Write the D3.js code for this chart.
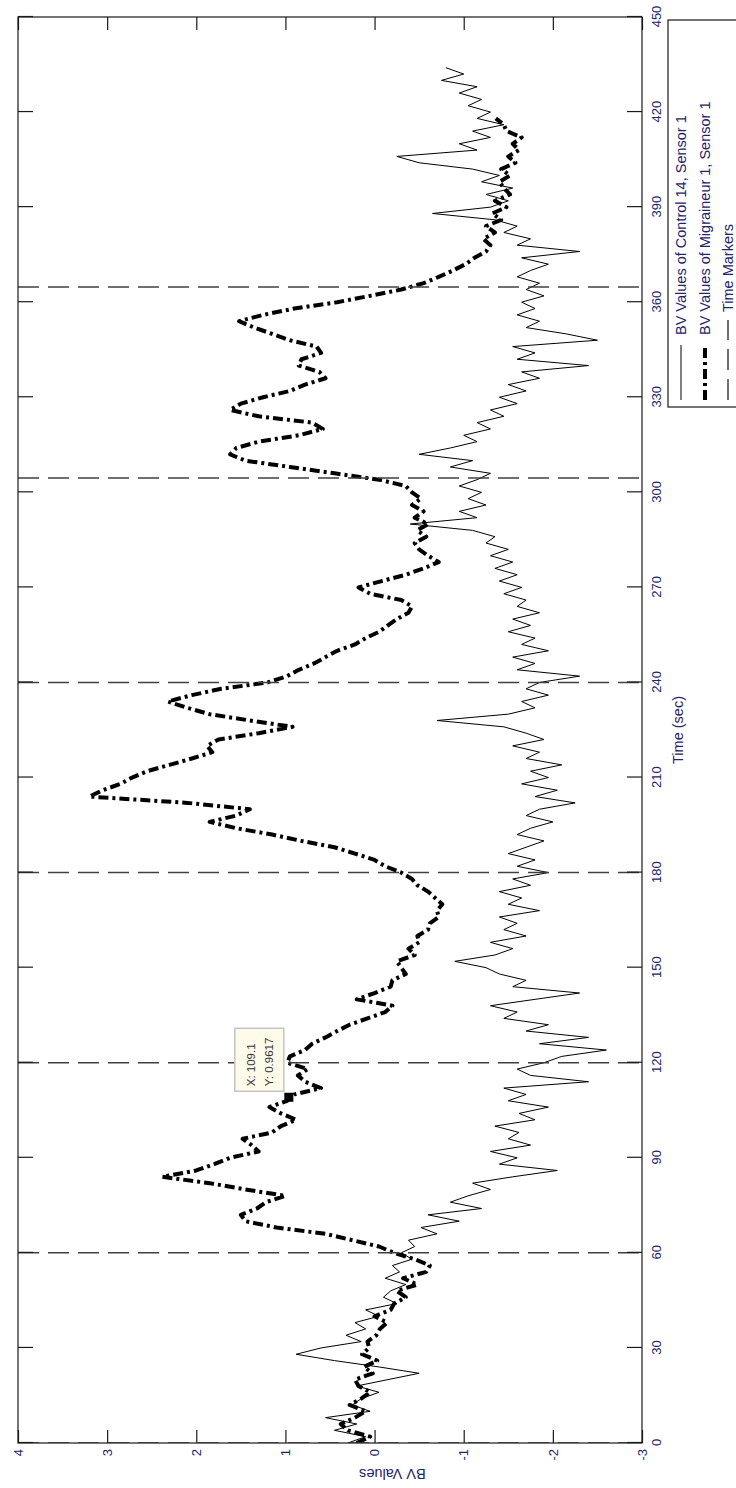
<!DOCTYPE html>
<html>
<head>
<meta charset="utf-8">
<script src="https://cdn.jsdelivr.net/npm/d3@7"></script>
<style>
  html, body { margin: 0; padding: 0; background: #ffffff; }
  svg { display: block; }
  text { font-family: "Liberation Sans", Arial, sans-serif; }
</style>
</head>
<body>
<script>
// Blood volume (BV) recordings, one sample every 2 s
const SAMPLE_STEP = 2;

const controlBV = [
  0.30, 0.10, 0.45, 0.20, 0.55, 0.05, 0.25, 0.15, -0.05, 0.20,
  -0.15, -0.50, -0.05, 0.45, 0.88, 0.60, 0.15, 0.32, 0.10, 0.22,
  -0.05, 0.10, -0.25, -0.10, -0.18, -0.35, -0.12, -0.28, -0.20, -0.42,
  -0.30, -0.45, -0.38, -0.70, -0.52, -0.95, -0.60, -1.20, -0.85, -1.05,
  -1.30, -1.10, -1.55, -2.05, -1.40, -1.60, -1.30, -1.75, -1.50, -1.62,
  -1.35, -1.80, -1.62, -1.95, -1.50, -1.70, -1.45, -2.40, -1.75, -1.60,
  -1.90, -2.10, -2.60, -1.85, -2.40, -1.70, -1.95, -1.45, -1.60, -1.30,
  -1.80, -2.30, -1.55, -1.70, -1.40, -1.25, -0.90, -1.35, -1.55, -1.30,
  -1.70, -1.45, -1.60, -1.40, -1.85, -1.50, -1.65, -1.40, -1.75, -1.55,
  -1.95, -1.60, -1.80, -1.50, -1.70, -1.90, -1.60, -1.75, -2.00, -1.70,
  -1.85, -2.25, -1.80, -2.05, -1.65, -1.95, -1.75, -2.10, -1.70, -1.85,
  -1.55, -1.90, -1.70, -1.45, -0.70, -1.50, -1.80, -1.65, -1.95, -1.70,
  -1.85, -2.30, -1.60, -1.80, -1.55, -1.95, -1.65, -1.80, -1.50, -1.75,
  -1.55, -1.85, -1.60, -1.70, -1.45, -1.65, -1.40, -1.60, -1.35, -1.55,
  -1.30, -1.50, -1.25, -1.35, -1.10, -0.40, -1.15, -0.95, -1.25, -1.05,
  -1.20, -0.95, -1.15, -1.30, -0.85, -1.10, -0.50, -0.85, -1.15, -1.00,
  -1.30, -1.15, -1.45, -1.30, -1.60, -1.40, -1.70, -1.50, -1.85, -1.65,
  -2.40, -1.60, -1.80, -1.55, -2.50, -2.15, -1.70, -1.85, -1.60, -1.80,
  -1.65, -1.90, -1.70, -1.85, -1.60, -1.75, -1.95, -1.65, -2.30, -1.60,
  -1.75, -1.45, -1.60, -1.35, -0.65, -1.30, -1.50, -1.25, -1.55, -1.20,
  -1.40, -1.10, -0.50, -0.25, -1.15, -0.95, -1.30, -1.10, -1.45, -1.15,
  -1.30, -1.05, -1.20, -0.95, -1.15, -0.75, -1.00, -0.80
];

const migraineurBV = [
  0.20, 0.05, 0.30, 0.38, 0.22, 0.10, 0.28, 0.15, 0.05, 0.18,
  0.22, 0.02, 0.12, -0.03, 0.14, 0.06, 0.08, -0.02, -0.06, -0.14,
  0.00, -0.18, -0.22, -0.35, -0.25, -0.48, -0.32, -0.58, -0.62, -0.45,
  -0.22, -0.05, 0.25, 0.55, 1.10, 1.45, 1.50, 1.32, 1.22, 1.00,
  1.45, 1.85, 2.38, 2.00, 1.80, 1.62, 1.30, 1.38, 1.48, 1.15,
  1.05, 0.88, 1.05, 1.18, 0.98, 0.90, 0.60, 0.78, 0.86, 0.75,
  0.98, 0.95, 0.78, 0.70, 0.55, 0.42, 0.28, 0.08, -0.12, -0.20,
  0.20, 0.00, -0.18, -0.20, -0.35, -0.30, -0.25, -0.45, -0.38, -0.50,
  -0.48, -0.60, -0.62, -0.72, -0.70, -0.76, -0.68, -0.60, -0.48, -0.42,
  -0.30, -0.12, 0.00, 0.22, 0.45, 0.82, 1.15, 1.55, 1.85, 1.55,
  1.40, 2.10, 3.20, 3.05, 2.85, 2.72, 2.55, 2.30, 2.05, 1.82,
  1.88, 1.75, 1.30, 0.92, 1.40, 1.85, 2.10, 2.32, 2.05, 1.72,
  1.20, 0.98, 0.85, 0.68, 0.55, 0.42, 0.22, 0.10, -0.05, -0.15,
  -0.25, -0.38, -0.42, -0.30, 0.05, 0.18, -0.08, -0.35, -0.55, -0.72,
  -0.60, -0.50, -0.45, -0.58, -0.48, -0.60, -0.45, -0.55, -0.42, -0.52,
  -0.42, -0.35, -0.05, 0.45, 0.95, 1.45, 1.62, 1.55, 1.30, 0.85,
  0.58, 0.70, 1.30, 1.62, 1.50, 1.25, 0.95, 0.78, 0.55, 0.62,
  0.85, 0.82, 0.60, 0.65, 0.95, 1.15, 1.35, 1.52, 1.25, 0.90,
  0.42, 0.05, -0.30, -0.55, -0.72, -0.88, -1.02, -1.12, -1.25, -1.30,
  -1.22, -1.35, -1.25, -1.42, -1.32, -1.48, -1.35, -1.52, -1.45, -1.40,
  -1.52, -1.42, -1.58, -1.50, -1.62, -1.55, -1.65, -1.48, -1.45, -1.36
];

// Protocol event times (s)
const timeMarkers = [0, 60, 120, 180, 240, 304.5, 364.8];

// Axis ticks
const timeTicks = [0, 30, 60, 90, 120, 150, 180, 210, 240, 270, 300, 330, 360, 390, 420, 450];
const bvTicks = [-3, -2, -1, 0, 1, 2, 3, 4];

// Data cursor
const cursorTime = 109.1;
const cursorBV = 0.9617;

const legendLabels = [
  "BV Values of Control 14, Sensor 1",
  "BV Values of Migraineur 1, Sensor 1",
  "Time Markers"
];

// ---- layout (chart is drawn landscape, then turned a quarter-turn) ----
const PAGE_W = 736, PAGE_H = 1488;
const plot = { left: 45, right: 1471, top: 18, bottom: 642 };
const textColor = "#23236b";

const x = d3.scaleLinear().domain([0, 450]).range([plot.left, plot.right]);
const y = d3.scaleLinear().domain([-3, 4]).range([plot.bottom, plot.top]);

const svg = d3.select("body").append("svg")
  .attr("width", PAGE_W).attr("height", PAGE_H);

svg.append("rect").attr("width", PAGE_W).attr("height", PAGE_H).attr("fill", "#fff");

const g = svg.append("g")
  .attr("transform", `translate(0,${PAGE_H}) rotate(-90)`);

g.append("clipPath").attr("id", "plot-clip")
  .append("rect")
  .attr("x", plot.left).attr("y", plot.top)
  .attr("width", plot.right - plot.left).attr("height", plot.bottom - plot.top);

const controlData = controlBV.map((v, i) => ({ t: i * SAMPLE_STEP, v }));
const migraineurData = migraineurBV.map((v, i) => ({ t: i * SAMPLE_STEP, v }));

const line = d3.line().x(d => x(d.t)).y(d => y(d.v));

const plotLayer = g.append("g").attr("clip-path", "url(#plot-clip)");

// Control subject: thin solid trace
plotLayer.append("path")
  .datum(controlData)
  .attr("d", line)
  .attr("fill", "none")
  .attr("stroke", "#000")
  .attr("stroke-width", 1)
  .attr("stroke-linejoin", "round");

// Migraineur: heavy dash-dot trace
plotLayer.append("path")
  .datum(migraineurData)
  .attr("d", line)
  .attr("fill", "none")
  .attr("stroke", "#000")
  .attr("stroke-width", 4)
  .attr("stroke-dasharray", "10,4,3,4")
  .attr("stroke-linejoin", "round");

// Axes box
g.append("rect")
  .attr("x", plot.left).attr("y", plot.top)
  .attr("width", plot.right - plot.left).attr("height", plot.bottom - plot.top)
  .attr("fill", "none").attr("stroke", "#1a1a1a").attr("stroke-width", 1.2);

// Time markers (dashed verticals)
plotLayer.selectAll("line.marker")
  .data(timeMarkers)
  .join("line")
  .attr("class", "marker")
  .attr("x1", d => x(d)).attr("x2", d => x(d))
  .attr("y1", plot.top).attr("y2", plot.bottom)
  .attr("stroke", "#404040")
  .attr("stroke-width", 1.5)
  .attr("stroke-dasharray", "21,9");

// Axes with inward ticks
const xAxisBottom = d3.axisBottom(x).tickValues(timeTicks).tickSize(-15).tickPadding(10).tickFormat(d => String(d));
const xAxisTop = d3.axisTop(x).tickValues(timeTicks).tickSize(-15).tickFormat("");
const yAxisLeft = d3.axisLeft(y).tickValues(bvTicks).tickSize(-13).tickPadding(6).tickFormat(d => String(d));
const yAxisRight = d3.axisRight(y).tickValues(bvTicks).tickSize(-13).tickFormat("");

function styleAxis(sel) {
  sel.select(".domain").remove();
  sel.selectAll(".tick line").attr("stroke", "#1a1a1a").attr("stroke-width", 1.2);
  sel.selectAll(".tick text")
    .attr("fill", textColor)
    .style("font-family", "'Liberation Sans', Arial, sans-serif")
    .style("font-size", "13px");
}

g.append("g").attr("transform", `translate(0,${plot.bottom})`).call(xAxisBottom).call(styleAxis);
g.append("g").attr("transform", `translate(0,${plot.top})`).call(xAxisTop).call(styleAxis);
g.append("g").attr("transform", `translate(${plot.left},0)`).call(yAxisLeft).call(styleAxis);
g.append("g").attr("transform", `translate(${plot.right},0)`).call(yAxisRight).call(styleAxis);

// Axis titles
g.append("text")
  .attr("x", x(225)).attr("y", 683)
  .attr("text-anchor", "middle")
  .attr("fill", textColor)
  .style("font-size", "14.5px")
  .text("Time (sec)");

g.append("text")
  .attr("transform", `translate(19,${y(-0.2)}) rotate(-90)`)
  .attr("text-anchor", "middle")
  .attr("fill", textColor)
  .style("font-size", "14.5px")
  .text("BV Values");

// Data cursor tip
const cx = x(cursorTime), cy = y(cursorBV);
const tip = g.append("g");
tip.append("rect")
  .attr("x", cx - 4.5).attr("y", cy - 4.5)
  .attr("width", 9).attr("height", 9)
  .attr("fill", "#000");
tip.append("rect")
  .attr("x", cx + 6).attr("y", cy - 54)
  .attr("width", 63).attr("height", 49)
  .attr("fill", "#fffbea")
  .attr("stroke", "#c4c4c4").attr("stroke-width", 1.5);
tip.append("text")
  .attr("x", cx + 11).attr("y", cy - 34)
  .attr("fill", "#333")
  .style("font-size", "11.5px")
  .text(`X: ${cursorTime}`);
tip.append("text")
  .attr("x", cx + 11).attr("y", cy - 16)
  .attr("fill", "#333")
  .style("font-size", "11.5px")
  .text(`Y: ${cursorBV}`);

// Legend (below the time axis, right aligned)
const legend = g.append("g");
legend.append("rect")
  .attr("x", 1081).attr("y", 668)
  .attr("width", plot.right - 3 - 1081).attr("height", 120)
  .attr("fill", "#fff")
  .attr("stroke", "#1a1a1a").attr("stroke-width", 1.2);

const legendRows = [
  { label: legendLabels[0], y: 681, width: 1, dash: null, x2: 1143, tx: 1153 },
  { label: legendLabels[1], y: 705, width: 4, dash: "10,4,3,4", x2: 1143, tx: 1153 },
  { label: legendLabels[2], y: 728, width: 1.5, dash: "21,9", x2: 1168, tx: 1176, color: "#404040" }
];

legendRows.forEach(r => {
  legend.append("line")
    .attr("x1", 1088).attr("x2", r.x2)
    .attr("y1", r.y).attr("y2", r.y)
    .attr("stroke", r.color || "#000")
    .attr("stroke-width", r.width)
    .attr("stroke-dasharray", r.dash);
  legend.append("text")
    .attr("x", r.tx).attr("y", r.y + 5)
    .attr("fill", textColor)
    .style("font-size", "14.5px")
    .text(r.label);
});
</script>
</body>
</html>
